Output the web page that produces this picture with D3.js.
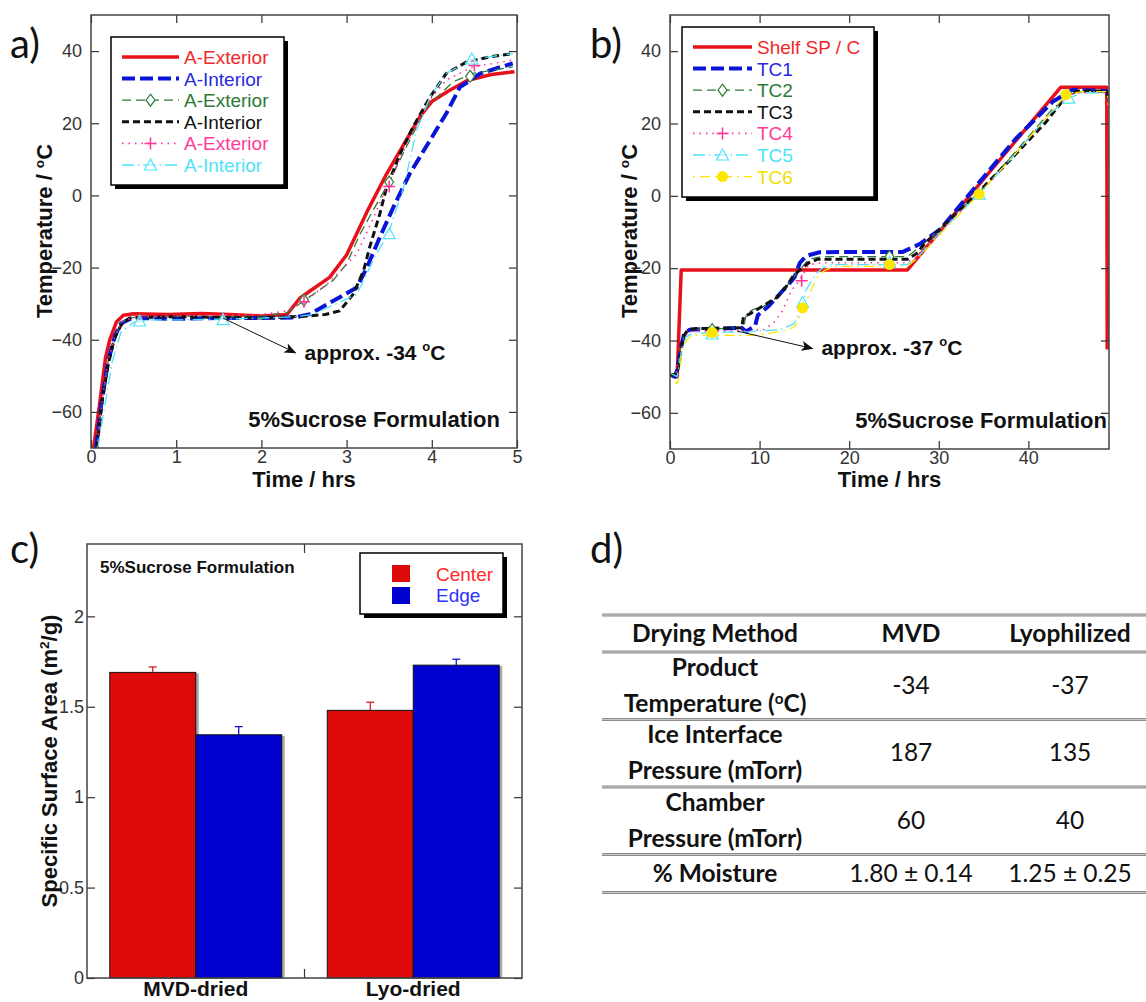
<!DOCTYPE html>
<html>
<head>
<meta charset="utf-8">
<script src="https://cdn.jsdelivr.net/npm/d3@7"></script>
<style>
body { margin: 0; background: #fff; }
</style>
</head>
<body>
<div id="chart"></div>
<script>
// ---------- data ----------
// panel a: MVD run, time (hrs) vs temperature (°C)
const aTimeTicks = [0, 1, 2, 3, 4, 5];
const tempTicks = [-60, -40, -20, 0, 20, 40];
const aLegendLabels = ["A-Exterior", "A-Interior", "A-Exterior", "A-Interior", "A-Exterior", "A-Interior"];
const aExterior1 = [[0.03,-70],[0.1,-58],[0.17,-45],[0.22,-40],[0.3,-35],[0.38,-33.2],[0.5,-32.8],[0.9,-33],[1.3,-32.7],[1.7,-33.1],[2.0,-33.4],[2.3,-33],[2.35,-31.5],[2.45,-28.5],[2.6,-26],[2.8,-22.7],[3.0,-16.5],[3.24,-4.5],[3.47,6],[3.7,15.3],[3.86,21.8],[4.0,26],[4.2,29],[4.41,31.8],[4.7,33.5],[4.97,34.3]];
const aInterior1 = [[0.06,-70],[0.12,-58],[0.2,-46],[0.28,-39],[0.35,-35.5],[0.45,-34.3],[0.6,-34],[1.0,-34.2],[1.5,-34],[2.0,-34],[2.4,-33.8],[2.57,-32.9],[2.92,-28.2],[3.12,-25.5],[3.24,-19.9],[3.39,-11.6],[3.55,-3.2],[3.74,6],[3.98,15.3],[4.17,22.7],[4.33,30],[4.57,33.8],[4.95,36.6]];
const aExterior2 = [[0.07,-70],[0.13,-57],[0.2,-46],[0.28,-39],[0.36,-35],[0.5,-33.8],[1.0,-33.5],[1.5,-33.6],[2.0,-33.5],[2.3,-32.5],[2.45,-30],[2.84,-23.6],[3.0,-19],[3.16,-10.6],[3.31,-4.2],[3.51,4.2],[3.7,13.4],[3.94,24.5],[4.25,31.5],[4.48,33.8],[4.95,35.6]];
const aInterior2 = [[0.07,-70],[0.13,-57],[0.2,-47],[0.27,-40],[0.35,-36],[0.45,-34],[0.6,-33.8],[1.0,-33.6],[1.5,-33.8],[2.0,-34],[2.5,-33.5],[2.75,-33],[2.92,-32],[3.08,-27.3],[3.2,-20.8],[3.27,-14.4],[3.39,-5.1],[3.47,2.3],[3.63,11.6],[3.78,19],[3.98,27.3],[4.17,33.8],[4.41,37],[4.7,38.5],[4.95,39.3]];
const aExterior3 = [[0.07,-70],[0.13,-57],[0.2,-46],[0.28,-39],[0.36,-35],[0.5,-33.8],[1.0,-33.4],[1.5,-33.2],[2.0,-33],[2.3,-32],[2.5,-29.5],[2.8,-24],[3.12,-16.2],[3.3,-7],[3.47,2.3],[3.7,14],[3.94,25.4],[4.17,32],[4.48,35.6],[4.95,37.5]];
const aInterior3 = [[0.08,-70],[0.15,-60],[0.25,-46],[0.35,-38],[0.5,-35.2],[0.7,-34.5],[1.0,-34.5],[1.5,-34.3],[2.0,-34],[2.4,-33.6],[2.6,-33],[3.12,-27.4],[3.35,-16.2],[3.49,-10.6],[3.67,2.3],[3.82,18],[3.98,27.3],[4.17,33.8],[4.48,37.8],[4.95,39.3]];
const aExterior2Marks = [[2.5,-29],[3.5,3.7],[4.45,33]];
const aExterior3Marks = [[2.5,-29.5],[3.5,2.5],[4.5,36]];
const aInterior3Marks = [[0.57,-34.8],[1.55,-34.4],[3.5,-10.6],[4.47,37.8]];

// panel b: lyophilization run, time (hrs) vs temperature (°C)
const bTimeTicks = [0, 10, 20, 30, 40];
const bLegendLabels = ["Shelf SP / C", "TC1", "TC2", "TC3", "TC4", "TC5", "TC6"];
const shelfSP = [[0.3,-50],[0.8,-50],[1.25,-20.5],[26.5,-20.5],[43.6,30],[48.75,30],[48.8,-42.5]];
const tc1 = [[0,-49.5],[0.6,-50],[0.9,-47],[1.2,-42],[1.6,-38],[2.2,-37],[8.0,-36.5],[8.5,-37.5],[9.5,-36],[9.8,-33],[11,-30.5],[12.3,-27],[13.4,-24],[13.9,-22.5],[14.5,-18.5],[15.2,-16.6],[16.7,-15.6],[20,-15.5],[26,-15.5],[27.9,-13.3],[30.2,-9.2],[34.2,2.8],[38.6,15.8],[42.7,26],[44.9,29.3],[48.8,29]];
const tc2 = [[0,-49],[0.6,-49.5],[0.9,-47],[1.2,-42],[1.6,-38],[2.2,-37],[8.2,-36.5],[8.5,-33],[9.2,-31.5],[10.5,-30.5],[12,-28],[13.5,-23.5],[14.3,-21],[15.5,-17.5],[17,-16.8],[26.5,-16.8],[28,-14],[30,-9.5],[34.5,1],[38.5,12],[42.5,23.5],[44.5,28],[46,28.8],[48.8,29],[48.9,25]];
const tc3 = [[0,-49.5],[0.5,-49.5],[0.9,-48],[1.2,-43],[1.5,-39],[2.0,-37],[3,-36.7],[8.0,-36.5],[8.2,-33.5],[9,-32.5],[10,-31],[11,-29.5],[12,-28],[13,-25],[13.8,-22],[14.5,-20.5],[15.5,-18.5],[16.5,-17.5],[20,-17.5],[26.5,-17.5],[27.5,-16],[28.5,-13],[30,-9.5],[34,0],[38,10],[42,20.5],[44.2,27.5],[45.5,29],[48.7,29],[48.9,27]];
const tc4 = [[0,-49],[0.7,-49],[1.2,-43],[1.8,-38.5],[2.5,-37.5],[8.5,-37.3],[10.5,-37],[11.6,-35],[12.5,-32],[13.6,-26],[14.4,-23.5],[15.5,-19],[17,-18.5],[26.5,-18.5],[28,-15.5],[30,-10],[34.5,0.5],[38.5,11.5],[42.5,23],[44.5,28],[46,28.5],[48.8,28.5]];
const tc5 = [[0,-49],[0.8,-50],[1.2,-44],[1.8,-39],[2.5,-38],[8.5,-37.6],[12.3,-37],[13.8,-35.5],[14.8,-30.5],[15.2,-26],[16.3,-21.5],[17,-20],[18,-19],[26.5,-19],[28,-16],[30,-10.5],[34.5,0.5],[38.5,11.5],[42.5,23],[44.5,27],[46,28.5],[48.8,28.5]];
const tc6 = [[0,-50],[0.8,-52],[1.0,-50],[1.3,-44],[1.8,-40],[2.5,-38.5],[9.3,-38.6],[13,-37.3],[14,-36],[14.9,-31],[16.3,-23],[17.2,-20.7],[18.5,-19.5],[26.5,-19.5],[28,-16.5],[30,-11],[34.5,0.5],[38.5,11.5],[42.5,23],[44.2,28],[46,28.8],[48.8,28.8],[48.9,25]];
const tc2Marks = [[4.7,-37],[24.5,-16.8]];
const tc4Marks = [[14.7,-23.5]];
const tc5Marks = [[4.7,-38.2],[14.8,-29.5],[24.5,-18.5],[34.5,0.5],[44.5,27]];
const tc6Marks = [[4.7,-37.8],[14.8,-31],[24.5,-19],[34.5,0.5],[44.2,28]];

// panel c: specific surface area (m²/g)
const dryGroups = ["MVD-dried", "Lyo-dried"];
const vialPositions = ["Center", "Edge"];
const ssaCenter = [1.69, 1.48];
const ssaEdge = [1.345, 1.73];
const ssaCenterErr = [0.03, 0.045];
const ssaEdgeErr = [0.045, 0.033];
const ssaTicks = [0, 0.5, 1, 1.5, 2];

// panel d: table
const tableHeader = ["Drying Method", "MVD", "Lyophilized"];
const tableRowLabels = [["Product", "Temperature (|o|C)"], ["Ice Interface", "Pressure (mTorr)"], ["Chamber", "Pressure (mTorr)"], ["% Moisture"]];
const mvdValues = ["-34", "187", "60", "1.80 ± 0.14"];
const lyoValues = ["-37", "135", "40", "1.25 ± 0.25"];

// ---------- styles ----------
const styles = {
  red:    { color: "#e8101a", text: "#f02828", width: 3.5, dash: null },
  blue:   { color: "#0a14d8", text: "#2a2ae0", width: 4, dash: "13,5" },
  green:  { color: "#2f7d3a", text: "#2e7a36", width: 1.3, dash: "9,5", marker: "diamond" },
  black:  { color: "#111", text: "#111", width: 3, dash: "7,4" },
  pink:   { color: "#ff3399", text: "#ff3a9a", width: 1.6, dash: "1.5,5", marker: "plus" },
  cyan:   { color: "#4fe3fa", text: "#4fe3fa", width: 1.3, dash: "12,4,1.5,4", marker: "triangle" },
  yellow: { color: "#ffe600", text: "#f2de00", width: 1.3, dash: "2,5,10,5", marker: "circle" }
};
const calibriLike = "Lato, 'Open Sans', sans-serif";

const W = 1146, H = 1002;
const svg = d3.select("#chart").append("svg").attr("width", W).attr("height", H)
  .attr("font-family", "Arial, 'Liberation Sans', sans-serif");
svg.append("rect").attr("width", W).attr("height", H).attr("fill", "#fff");
const defs = svg.append("defs");
defs.append("marker").attr("id", "arrow").attr("viewBox", "0 0 12 10")
  .attr("refX", 11).attr("refY", 5).attr("markerWidth", 12).attr("markerHeight", 10)
  .attr("markerUnits", "userSpaceOnUse").attr("orient", "auto")
  .append("path").attr("d", "M0,0 L12,5 L0,10 L3,5 Z").attr("fill", "#111");

// text with "|o|" marking a superscript o
function richText(sel, str, supShift) {
  const parts = str.split("|");
  parts.forEach((t, i) => {
    if (!t) return;
    const sup = i % 2 === 1;
    const ts = sel.append("tspan").text(t);
    if (sup) ts.attr("font-size", "0.62em").attr("dy", -supShift);
    else if (i > 0 && parts[i - 1] && (i - 1) % 2 === 1) ts.attr("dy", supShift);
  });
  return sel;
}

function drawMarker(g, st, cx, cy) {
  const m = st.marker;
  if (m === "diamond") {
    g.append("path").attr("d", "M0,-6 L4.5,0 L0,6 L-4.5,0 Z").attr("transform", `translate(${cx},${cy})`)
      .attr("fill", "#fff").attr("stroke", st.color).attr("stroke-width", 1.2);
  } else if (m === "plus") {
    g.append("path").attr("d", "M-6,0 H6 M0,-6 V6").attr("transform", `translate(${cx},${cy})`)
      .attr("stroke", st.color).attr("stroke-width", 1.5);
  } else if (m === "triangle") {
    g.append("path").attr("d", "M0,-6 L6,5 L-6,5 Z").attr("transform", `translate(${cx},${cy})`)
      .attr("fill", "#fff").attr("fill-opacity", 0.6).attr("stroke", st.color).attr("stroke-width", 1.2);
  } else if (m === "circle") {
    g.append("circle").attr("cx", cx).attr("cy", cy).attr("r", 5.5).attr("fill", st.color);
  }
}

function styleAxis(ax, size) {
  ax.select(".domain").remove();
  ax.selectAll(".tick line").attr("stroke", "#333").attr("stroke-width", 1.2);
  ax.selectAll(".tick text").attr("font-size", size).attr("fill", "#333")
    .attr("font-family", "Arial, 'Liberation Sans', sans-serif");
}

function legendBox(x0, y0, w, h) {
  svg.append("rect").attr("x", x0 + 4).attr("y", y0 + 4).attr("width", w).attr("height", h).attr("fill", "#000");
  svg.append("rect").attr("x", x0).attr("y", y0).attr("width", w).attr("height", h)
    .attr("fill", "#fff").attr("stroke", "#000").attr("stroke-width", 1.5);
}

function drawLinePanel(p) {
  const x = d3.scaleLinear().domain(p.xDomain).range([p.left, p.right]);
  const y = d3.scaleLinear().domain(p.yDomain).range([p.bottom, p.top]);
  defs.append("clipPath").attr("id", "clip-" + p.id).append("rect")
    .attr("x", p.left).attr("y", p.top).attr("width", p.right - p.left).attr("height", p.bottom - p.top);

  const plot = svg.append("g").attr("clip-path", `url(#clip-${p.id})`);
  const line = d3.line().x(d => x(d[0])).y(d => y(d[1]));
  p.series.forEach(s => {
    plot.append("path").datum(s.data).attr("d", line).attr("fill", "none")
      .attr("stroke", s.style.color).attr("stroke-width", s.style.width)
      .attr("stroke-dasharray", s.style.dash).attr("stroke-linejoin", "round");
  });
  p.series.forEach(s => {
    if (s.marks) s.marks.forEach(m => drawMarker(plot, s.style, x(m[0]), y(m[1])));
  });

  // axes, ticks pointing inwards on all four sides
  styleAxis(svg.append("g").attr("transform", `translate(0,${p.bottom})`)
    .call(d3.axisBottom(x).tickValues(p.xTicks).tickFormat(d3.format("d")).tickSize(-8).tickSizeOuter(0).tickPadding(2)), 18);
  styleAxis(svg.append("g").attr("transform", `translate(${p.left},0)`)
    .call(d3.axisLeft(y).tickValues(tempTicks).tickFormat(d3.format("d")).tickSize(-8).tickSizeOuter(0).tickPadding(9)), 18);
  styleAxis(svg.append("g").attr("transform", `translate(0,${p.top})`)
    .call(d3.axisTop(x).tickValues(p.xTicks).tickSize(-8).tickSizeOuter(0).tickFormat("")), 18);
  styleAxis(svg.append("g").attr("transform", `translate(${p.right},0)`)
    .call(d3.axisRight(y).tickValues(tempTicks).tickSize(-8).tickSizeOuter(0).tickFormat("")), 18);
  svg.append("rect").attr("x", p.left).attr("y", p.top).attr("width", p.right - p.left)
    .attr("height", p.bottom - p.top).attr("fill", "none").attr("stroke", "#444").attr("stroke-width", 1.5);

  // axis titles
  svg.append("text").attr("x", (p.left + p.right) / 2).attr("y", 487).attr("text-anchor", "middle")
    .attr("font-size", 22).attr("font-weight", "bold").attr("fill", "#111").text("Time / hrs");
  richText(svg.append("text").attr("transform", `translate(${p.yLabelX},231) rotate(-90)`)
    .attr("text-anchor", "middle").attr("font-size", 22).attr("font-weight", "bold").attr("fill", "#111"),
    "Temperature / |o|C", 8);

  // annotation arrow + text
  svg.append("line").attr("x1", x(p.arrow[0][0])).attr("y1", y(p.arrow[0][1]))
    .attr("x2", x(p.arrow[1][0])).attr("y2", y(p.arrow[1][1]))
    .attr("stroke", "#111").attr("stroke-width", 1).attr("marker-end", "url(#arrow)");
  richText(svg.append("text").attr("x", x(p.arrow[1][0]) + 9).attr("y", y(p.arrow[1][1]) + 7)
    .attr("font-size", 21).attr("font-weight", "bold").attr("fill", "#111"), p.note, 9);

  svg.append("text").attr("x", p.right - p.formulaPad).attr("y", p.bottom - 21).attr("text-anchor", "end")
    .attr("font-size", 22).attr("font-weight", "bold").attr("fill", "#111").text("5%Sucrose Formulation");

  // legend
  const lg = p.legend;
  legendBox(lg.x, lg.y, lg.w, lg.h);
  p.series.forEach((s, i) => {
    const cy = lg.firstRow + i * 21.6;
    svg.append("line").attr("x1", lg.lineX0).attr("x2", lg.lineX1).attr("y1", cy).attr("y2", cy)
      .attr("stroke", s.style.color).attr("stroke-width", s.style.width)
      .attr("stroke-dasharray", s.style.dash);
    if (s.style.marker) drawMarker(svg, s.style, (lg.lineX0 + lg.lineX1) / 2, cy);
    svg.append("text").attr("x", lg.lineX1 + 5).attr("y", cy + 7).attr("font-size", 19)
      .attr("fill", s.style.text).text(s.label);
  });
}

// ---------- panel a ----------
drawLinePanel({
  id: "a", left: 91, right: 517, top: 15, bottom: 448,
  xDomain: [0, 5], yDomain: [-70, 50], xTicks: aTimeTicks, yLabelX: 52, formulaPad: 17,
  arrow: [[1.55, -34], [2.4, -43.6]], note: "approx. -34 |o|C",
  legend: { x: 111, y: 37, w: 173, h: 148, firstRow: 57, lineX0: 122, lineX1: 179 },
  series: [
    { data: aExterior1, style: styles.red, label: aLegendLabels[0] },
    { data: aInterior1, style: styles.blue, label: aLegendLabels[1] },
    { data: aExterior2, style: styles.green, label: aLegendLabels[2], marks: aExterior2Marks },
    { data: aInterior2, style: styles.black, label: aLegendLabels[3] },
    { data: aExterior3, style: styles.pink, label: aLegendLabels[4], marks: aExterior3Marks },
    { data: aInterior3, style: styles.cyan, label: aLegendLabels[5], marks: aInterior3Marks }
  ]
});

// ---------- panel b ----------
drawLinePanel({
  id: "b", left: 670, right: 1109, top: 15, bottom: 449,
  xDomain: [0, 49], yDomain: [-70, 50], xTicks: bTimeTicks, yLabelX: 637, formulaPad: 2,
  arrow: [[7.5, -37.4], [15.9, -42.2]], note: "approx. -37 |o|C",
  legend: { x: 682, y: 27, w: 192, h: 170, firstRow: 47, lineX0: 693, lineX1: 752 },
  series: [
    { data: shelfSP, style: styles.red, label: bLegendLabels[0] },
    { data: tc1, style: styles.blue, label: bLegendLabels[1] },
    { data: tc2, style: styles.green, label: bLegendLabels[2], marks: tc2Marks },
    { data: tc3, style: styles.black, label: bLegendLabels[3] },
    { data: tc4, style: styles.pink, label: bLegendLabels[4], marks: tc4Marks },
    { data: tc5, style: styles.cyan, label: bLegendLabels[5], marks: tc5Marks },
    { data: tc6, style: styles.yellow, label: bLegendLabels[6], marks: tc6Marks }
  ]
});

// ---------- panel c ----------
(function () {
  const left = 87, right = 522, top = 544, bottom = 978;
  const x0 = d3.scaleBand().domain(dryGroups).range([left, right]).padding(0);
  const x1 = d3.scaleBand().domain(vialPositions).range([0, x0.bandwidth()]).paddingInner(0).paddingOuter(0.265);
  const y = d3.scaleLinear().domain([0, 2.4]).range([bottom, top]);
  const barColor = { Center: "#dd0a0a", Edge: "#0000d0" };
  const barText = { Center: "#ff2a2a", Edge: "#3030ff" };

  const rows = [];
  dryGroups.forEach((g, i) => {
    rows.push({ group: g, pos: "Center", v: ssaCenter[i], e: ssaCenterErr[i] });
    rows.push({ group: g, pos: "Edge", v: ssaEdge[i], e: ssaEdgeErr[i] });
  });

  const bars = svg.append("g");
  rows.forEach(d => {
    const bx = x0(d.group) + x1(d.pos), bw = x1.bandwidth();
    bars.append("rect").attr("x", bx + 3).attr("y", y(d.v) + 1).attr("width", bw).attr("height", y(0) - y(d.v) - 1)
      .attr("fill", "#a8a8a8");
  });
  rows.forEach(d => {
    const bx = x0(d.group) + x1(d.pos), bw = x1.bandwidth();
    bars.append("rect").attr("x", bx).attr("y", y(d.v)).attr("width", bw).attr("height", y(0) - y(d.v))
      .attr("fill", barColor[d.pos]).attr("stroke", "#111").attr("stroke-width", 1);
    const cx = bx + bw / 2;
    bars.append("line").attr("x1", cx).attr("x2", cx).attr("y1", y(d.v)).attr("y2", y(d.v + d.e))
      .attr("stroke", barColor[d.pos]).attr("stroke-width", 1.2);
    bars.append("line").attr("x1", cx - 4).attr("x2", cx + 4).attr("y1", y(d.v + d.e)).attr("y2", y(d.v + d.e))
      .attr("stroke", barColor[d.pos]).attr("stroke-width", 1.2);
  });

  styleAxis(svg.append("g").attr("transform", `translate(${left},0)`)
    .call(d3.axisLeft(y).tickValues(ssaTicks).tickFormat(d => d).tickSize(-8).tickSizeOuter(0).tickPadding(3)), 18);
  styleAxis(svg.append("g").attr("transform", `translate(${right},0)`)
    .call(d3.axisRight(y).tickValues(ssaTicks).tickFormat("").tickSize(-8).tickSizeOuter(0)), 18);
  const mid = (left + right) / 2;
  svg.append("line").attr("x1", mid).attr("x2", mid).attr("y1", bottom).attr("y2", bottom - 9).attr("stroke", "#333").attr("stroke-width", 1.2);
  svg.append("line").attr("x1", mid).attr("x2", mid).attr("y1", top).attr("y2", top + 9).attr("stroke", "#333").attr("stroke-width", 1.2);
  svg.append("rect").attr("x", left).attr("y", top).attr("width", right - left).attr("height", bottom - top)
    .attr("fill", "none").attr("stroke", "#444").attr("stroke-width", 1.5);

  dryGroups.forEach(g => {
    svg.append("text").attr("x", x0(g) + x0.bandwidth() / 2).attr("y", 996).attr("text-anchor", "middle")
      .attr("font-size", 21).attr("font-weight", "bold").attr("fill", "#111").text(g);
  });
  const yl = svg.append("text").attr("transform", "translate(57,761) rotate(-90)").attr("text-anchor", "middle")
    .attr("font-size", 22).attr("font-weight", "bold").attr("fill", "#111");
  yl.append("tspan").text("Specific Surface Area (m");
  yl.append("tspan").attr("font-size", "0.62em").attr("dy", -8).text("2");
  yl.append("tspan").attr("dy", 8).text("/g)");

  svg.append("text").attr("x", 100).attr("y", 573).attr("font-size", 17).attr("font-weight", "bold")
    .attr("fill", "#111").text("5%Sucrose Formulation");

  legendBox(360, 553, 143, 61);
  vialPositions.forEach((p, i) => {
    svg.append("rect").attr("x", 392).attr("y", 565 + i * 22).attr("width", 18).attr("height", 17).attr("fill", barColor[p]);
    svg.append("text").attr("x", 436).attr("y", 581 + i * 21).attr("font-size", 19).attr("fill", barText[p]).text(p);
  });
})();

// ---------- panel d: table ----------
(function () {
  const colX = [715, 911, 1070];
  const lineX0 = 602, lineX1 = 1146;
  const tableTop = 615, headerH = 37, twoLineH = 67.5, oneLineH = 38;
  const heights = tableRowLabels.map(r => r.length > 1 ? twoLineH : oneLineH);
  const ys = [tableTop, tableTop + headerH];
  heights.forEach(h => ys.push(ys[ys.length - 1] + h));

  ys.forEach(yy => {
    svg.append("line").attr("x1", lineX0).attr("x2", lineX1).attr("y1", yy).attr("y2", yy)
      .attr("stroke", "#8c8c8c").attr("stroke-width", 3);
    svg.append("line").attr("x1", lineX0).attr("x2", lineX1).attr("y1", yy).attr("y2", yy)
      .attr("stroke", "#d8d8d8").attr("stroke-width", 0.8);
  });

  const cell = (x, y, str, bold) => richText(svg.append("text").attr("x", x).attr("y", y).attr("text-anchor", "middle")
    .attr("font-family", calibriLike).attr("font-size", 24.5).attr("font-weight", bold ? "bold" : "normal")
    .attr("fill", "#111"), str, 8);

  const hMid = (ys[0] + ys[1]) / 2 + 8;
  tableHeader.forEach((t, i) => cell(colX[i], hMid, t, true));
  tableRowLabels.forEach((lab, r) => {
    const mid = (ys[r + 1] + ys[r + 2]) / 2 + 8;
    if (lab.length > 1) {
      cell(colX[0], mid - 18, lab[0], true);
      cell(colX[0], mid + 18, lab[1], true);
    } else {
      cell(colX[0], mid, lab[0], true);
    }
    cell(colX[1], mid, mvdValues[r], false);
    cell(colX[2], mid, lyoValues[r], false);
  });
})();

// ---------- panel letters ----------
[["a)", 10, 58], ["b)", 590, 58], ["c)", 10, 563], ["d)", 590, 563]].forEach(([t, x, y]) => {
  svg.append("text").attr("x", x).attr("y", y).attr("font-family", calibriLike)
    .attr("font-size", 40).attr("fill", "#111").text(t);
});
</script>
</body>
</html>
